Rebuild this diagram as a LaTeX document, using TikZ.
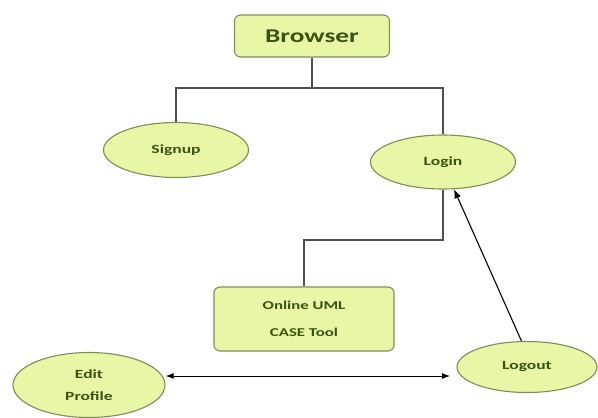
\documentclass[tikz,border=0pt]{standalone}
\usepackage{fontspec}
\setmainfont{Carlito}
\newfontfamily\labfont[FakeStretch=1.4]{Carlito}
\usetikzlibrary{shapes.geometric,arrows.meta}
\definecolor{boxfill}{HTML}{E8F6A6}
\definecolor{boxline}{HTML}{7E8C5C}
\definecolor{txt}{HTML}{3A5212}
\definecolor{conn}{HTML}{505050}
\tikzset{
  box/.style={draw=boxline, line width=1.1pt, fill=boxfill, rounded corners=6pt, text=txt, align=center},
  uc/.style={draw=boxline, line width=1.1pt, fill=boxfill, ellipse, inner sep=0pt, font=\labfont\bfseries\fontsize{12.5}{15}\selectfont, text=txt, align=center},
  link/.style={draw=conn, line width=1.1pt},
  arr/.style={draw=black, line width=1.1pt, -{Latex[length=9pt,width=7pt]}},
  darr/.style={draw=black, line width=1pt, {Latex[length=8pt,width=6pt]}-{Latex[length=8pt,width=6pt]}}
}
\begin{document}
\begin{tikzpicture}[x=1pt,y=-1pt]
\useasboundingbox (0,0) rectangle (598,418);
\node[box, minimum width=155pt, minimum height=42pt, font=\labfont\bfseries\fontsize{19.5}{22}\selectfont] (browser) at (312,36) {Browser};
\node[uc, minimum width=145pt, minimum height=55pt] (signup) at (176,150) {Signup};
\node[uc, minimum width=145pt, minimum height=54pt] (login) at (443,162) {Login};
\node[box, minimum width=180pt, minimum height=64pt, font=\labfont\bfseries\fontsize{12}{27}\selectfont] (uml) at (304,319) {Online UML\\CASE Tool};
\node[uc, minimum width=140pt, minimum height=51pt] (logout) at (527,367) {Logout};
\node[uc, minimum width=152pt, minimum height=65pt, font=\labfont\bfseries\fontsize{12.5}{22}\selectfont] (edit) at (89,385) {Edit\\Profile};
\coordinate (hub) at (312,88);
\coordinate (bend) at (304,240);
\coordinate (arrend) at (450,376);
\draw[link] (browser.south) -- (hub) -| (signup.north);
\draw[link] (hub) -| (login.north);
\draw[link] (login.south) |- (bend) -- (uml.north);
\draw[arr] (logout.102) -- (login.-68);
\draw[darr] (edit.east |- arrend) -- (arrend);
\end{tikzpicture}
\end{document}
